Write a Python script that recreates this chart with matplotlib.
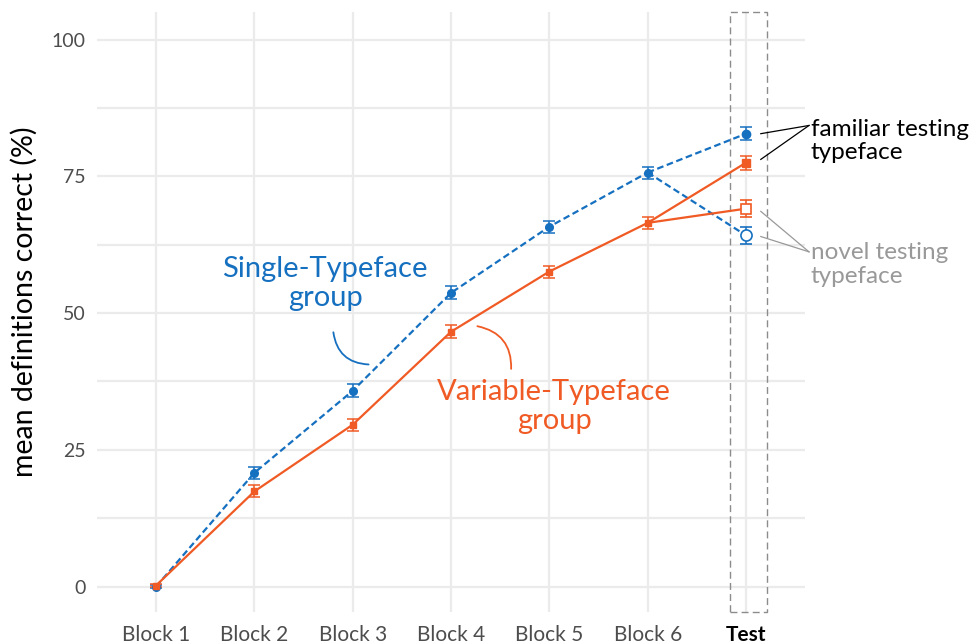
import numpy as np
import matplotlib.pyplot as plt
from matplotlib.patches import Rectangle

plt.rcParams['font.family'] = ['Lato', 'DejaVu Sans']

blocks = ["Block 1", "Block 2", "Block 3", "Block 4", "Block 5", "Block 6", "Test"]

single_mean = [0.0, 20.8, 35.8, 53.7, 65.8, 75.7]
single_err = [0.3, 1.1, 1.2, 1.2, 1.1, 1.1]
single_test_familiar, single_test_familiar_err = 82.8, 1.2
single_test_novel, single_test_novel_err = 64.2, 1.5

var_mean = [0.2, 17.4, 29.6, 46.6, 57.6, 66.5]
var_err = [0.3, 1.1, 1.1, 1.2, 1.1, 1.1]
var_test_familiar, var_test_familiar_err = 77.5, 1.3
var_test_novel, var_test_novel_err = 69.1, 1.5

BLUE = "#1670c0"
ORANGE = "#f05a24"


def main():
    fig = plt.figure(figsize=(9.75, 6.44), dpi=100)
    ax = fig.add_axes([0.0995, 0.05, 0.7262, 0.931])

    x = np.arange(1, 7)
    xt = 7

    # lines
    for target in (single_test_familiar, single_test_novel):
        ax.plot([6, xt], [single_mean[-1], target], color=BLUE, lw=1.6, ls=(0, (3, 1.6)), zorder=3)
    for target in (var_test_familiar, var_test_novel):
        ax.plot([6, xt], [var_mean[-1], target], color=ORANGE, lw=1.6, zorder=3)
    ax.plot(x, single_mean, color=BLUE, lw=1.6, ls=(0, (3, 1.6)), zorder=3)
    ax.plot(x, var_mean, color=ORANGE, lw=1.6, zorder=3)

    # error bars + markers
    ekw = dict(elinewidth=1.1, capsize=4, capthick=1.1, lw=0, zorder=4)
    ax.errorbar(x, single_mean, yerr=single_err, color=BLUE, marker="o", ms=5.5, **ekw)
    ax.errorbar(x, var_mean, yerr=var_err, color=ORANGE, marker="s", ms=5, **ekw)
    ax.errorbar([xt], [single_test_familiar], yerr=[single_test_familiar_err], color=BLUE, marker="o", ms=6, **ekw)
    ax.errorbar([xt], [var_test_familiar], yerr=[var_test_familiar_err], color=ORANGE, marker="s", ms=5.5, **ekw)
    ax.errorbar([xt], [single_test_novel], yerr=[single_test_novel_err], color=BLUE, marker="o", ms=8,
                mfc="white", mew=1.2, **ekw)
    ax.errorbar([xt], [var_test_novel], yerr=[var_test_novel_err], color=ORANGE, marker="s", ms=7.5,
                mfc="white", mew=1.2, **ekw)

    ax.set_xlim(0.4, 7.6)
    ax.set_ylim(-4.6, 105)
    ax.set_xticks(np.arange(1, 8))
    ax.set_xticklabels(blocks)
    ax.set_yticks([0, 25, 50, 75, 100])
    ax.set_yticks([12.5, 37.5, 62.5, 87.5], minor=True)
    ax.grid(True, which="both", color="#ebebeb", lw=1.6)
    ax.set_axisbelow(True)
    for s in ax.spines.values():
        s.set_visible(False)
    ax.tick_params(length=0, labelsize=14, labelcolor="#4d4d4d", pad=8)
    ax.tick_params(axis="x", labelsize=15, pad=9.5)
    ax.tick_params(which="minor", length=0)
    lbl = ax.get_xticklabels()[-1]
    lbl.set_fontweight("bold")
    lbl.set_color("black")
    ax.set_ylabel("mean definitions correct (%)", fontsize=20.5)
    ax.yaxis.set_label_coords(-0.084, 0.517)

    # dashed box around test
    ax.add_patch(Rectangle((6.84, -4.6), 0.376, 109.6, fill=False, ec="#8c8c8c",
                           ls=(0, (5, 3)), lw=1.0, clip_on=False, zorder=2))

    # group labels
    ax.text(2.72, 55.4, "Single-Typeface\ngroup", color=BLUE, fontsize=21, ha="center", va="center",
            linespacing=1.15)
    ax.annotate("", xy=(3.19, 40.6), xytext=(2.80, 47.0),
                arrowprops=dict(arrowstyle="-", color=BLUE, lw=1.3, connectionstyle="arc3,rad=0.45"))
    ax.text(5.05, 32.9, "Variable-Typeface\ngroup", color=ORANGE, fontsize=21, ha="center", va="center",
            linespacing=1.15)
    ax.annotate("", xy=(4.61, 39.3), xytext=(4.24, 47.7),
                arrowprops=dict(arrowstyle="-", color=ORANGE, lw=1.3, connectionstyle="arc3,rad=-0.45"))

    # right-side labels
    ax.text(7.66, 81.5, "familiar testing\ntypeface", color="black", fontsize=17.5, ha="left", va="center",
            clip_on=False, linespacing=1.15)
    for ty in (82.8, 78.1):
        ax.plot([7.64, 7.15], [84.3, ty], color="black", lw=0.9, clip_on=False)
    ax.text(7.66, 58.9, "novel testing\ntypeface", color="#999999", fontsize=17.5, ha="left", va="center",
            clip_on=False, linespacing=1.15)
    for ty in (68.6, 64.0):
        ax.plot([7.64, 7.15], [61.2, ty], color="#999999", lw=0.9, clip_on=False)

    fig.savefig("out.png", dpi=100)


if __name__ == "__main__":
    main()
